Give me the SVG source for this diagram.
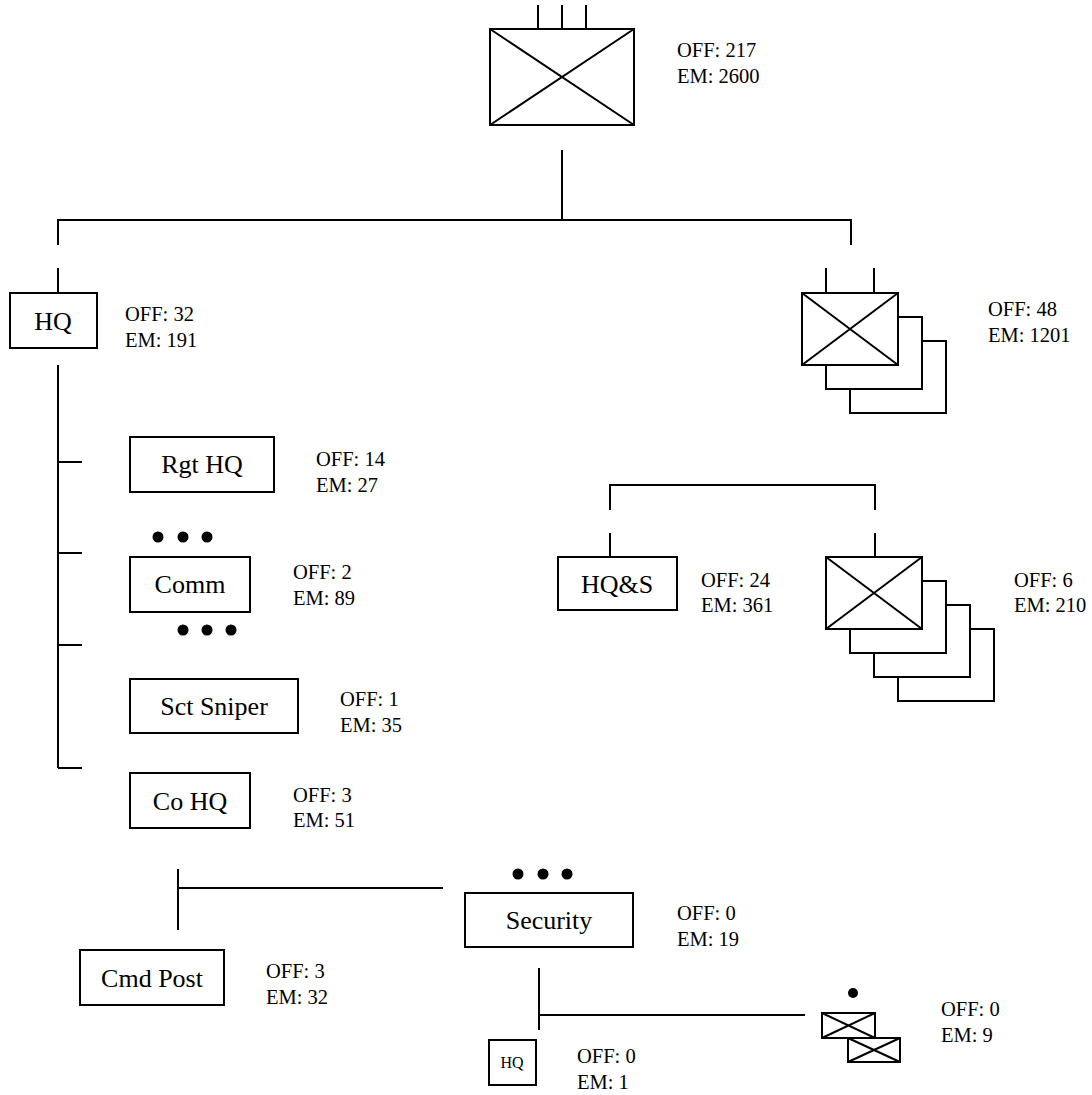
<svg xmlns="http://www.w3.org/2000/svg" width="1092" height="1095" viewBox="0 0 1092 1095">
<style>
.s{fill:none;stroke:#000;stroke-width:2}
.b{fill:#fff;stroke:#000;stroke-width:2}
.t{font-family:"Liberation Serif","Times New Roman",serif;font-size:20.5px;fill:#000}
.l{font-family:"Liberation Serif","Times New Roman",serif;font-size:26px;fill:#000;text-anchor:middle}
.d{fill:#000}
</style>
<rect width="1092" height="1095" fill="#fff"/>
<g id="connectors">
<path class="s" d="M538 5V29M562 5V29M586 5V29"/>
<path class="s" d="M562 150V220M58 245V220H851V245"/>
<path class="s" d="M58 268V293M58 365V768M58 462H82M58 553H82M58 645H82M58 768H82"/>
<path class="s" d="M826 268V293M874 268V293"/>
<path class="s" d="M610 510V485H875V510M610 533V557M875 533V557"/>
<path class="s" d="M178 869V930M178 888H443"/>
<path class="s" d="M539 968V1030M539 1015H805"/>
</g>
<g id="n-top">
<rect class="b" x="490" y="29" width="144" height="96"/>
<path class="s" d="M490 29L634 125M634 29L490 125"/>
<text class="t" x="677" y="57">OFF: 217</text>
<text class="t" x="677" y="83">EM: 2600</text>
</g>
<g id="n-hq">
<rect class="b" x="10" y="293" width="87" height="55"/>
<text class="l" x="53" y="330">HQ</text>
<text class="t" x="125" y="321">OFF: 32</text>
<text class="t" x="125" y="347">EM: 191</text>
</g>
<g id="n-rgt">
<rect class="b" x="130" y="437" width="144" height="55"/>
<text class="l" x="202" y="473">Rgt HQ</text>
<text class="t" x="316" y="466">OFF: 14</text>
<text class="t" x="316" y="492">EM: 27</text>
</g>
<g id="n-comm">
<circle class="d" cx="158" cy="537" r="5.5"/><circle class="d" cx="183" cy="537" r="5.5"/><circle class="d" cx="207" cy="537" r="5.5"/>
<rect class="b" x="130" y="557" width="120" height="55"/>
<text class="l" x="190" y="593">Comm</text>
<text class="t" x="293" y="579">OFF: 2</text>
<text class="t" x="293" y="605">EM: 89</text>
</g>
<g id="n-sniper">
<circle class="d" cx="183" cy="630" r="5.5"/><circle class="d" cx="207" cy="630" r="5.5"/><circle class="d" cx="231" cy="630" r="5.5"/>
<rect class="b" x="130" y="679" width="168" height="54"/>
<text class="l" x="214" y="715">Sct Sniper</text>
<text class="t" x="340" y="706">OFF: 1</text>
<text class="t" x="340" y="732">EM: 35</text>
</g>
<g id="n-cohq">
<rect class="b" x="130" y="773" width="120" height="55"/>
<text class="l" x="190" y="810">Co HQ</text>
<text class="t" x="293" y="802">OFF: 3</text>
<text class="t" x="293" y="827">EM: 51</text>
</g>
<g id="n-bn">
<rect class="b" x="850" y="341" width="96" height="72"/>
<rect class="b" x="826" y="317" width="96" height="72"/>
<rect class="b" x="802" y="293" width="96" height="72"/>
<path class="s" d="M802 293L898 365M898 293L802 365"/>
<text class="t" x="988" y="316">OFF: 48</text>
<text class="t" x="988" y="342">EM: 1201</text>
</g>
<g id="n-hqs">
<rect class="b" x="558" y="557" width="119" height="53"/>
<text class="l" x="617" y="593">HQ&amp;S</text>
<text class="t" x="701" y="587">OFF: 24</text>
<text class="t" x="701" y="612">EM: 361</text>
</g>
<g id="n-co">
<rect class="b" x="898" y="629" width="96" height="72"/>
<rect class="b" x="874" y="605" width="96" height="72"/>
<rect class="b" x="850" y="581" width="96" height="72"/>
<rect class="b" x="826" y="557" width="96" height="72"/>
<path class="s" d="M826 557L922 629M922 557L826 629"/>
<text class="t" x="1014" y="587">OFF: 6</text>
<text class="t" x="1014" y="612">EM: 210</text>
</g>
<g id="n-security">
<circle class="d" cx="518" cy="874" r="5.5"/><circle class="d" cx="543" cy="874" r="5.5"/><circle class="d" cx="567" cy="874" r="5.5"/>
<rect class="b" x="465" y="893" width="168" height="54"/>
<text class="l" x="549" y="929">Security</text>
<text class="t" x="677" y="920">OFF: 0</text>
<text class="t" x="677" y="946">EM: 19</text>
</g>
<g id="n-cmdpost">
<rect class="b" x="80" y="950" width="144" height="55"/>
<text class="l" x="152" y="987">Cmd Post</text>
<text class="t" x="266" y="978">OFF: 3</text>
<text class="t" x="266" y="1004">EM: 32</text>
</g>
<g id="n-hq2">
<rect class="b" x="489" y="1040" width="47" height="45"/>
<text class="l" x="512" y="1068" style="font-size:16px">HQ</text>
<text class="t" x="577" y="1063">OFF: 0</text>
<text class="t" x="577" y="1089">EM: 1</text>
</g>
<g id="n-team">
<circle class="d" cx="853" cy="993" r="5"/>
<rect class="b" x="848" y="1038" width="52" height="24"/>
<path class="s" d="M848 1038L900 1062M900 1038L848 1062"/>
<rect class="b" x="822" y="1013" width="53" height="25"/>
<path class="s" d="M822 1013L875 1038M875 1013L822 1038"/>
<text class="t" x="941" y="1016">OFF: 0</text>
<text class="t" x="941" y="1042">EM: 9</text>
</g>
</svg>
